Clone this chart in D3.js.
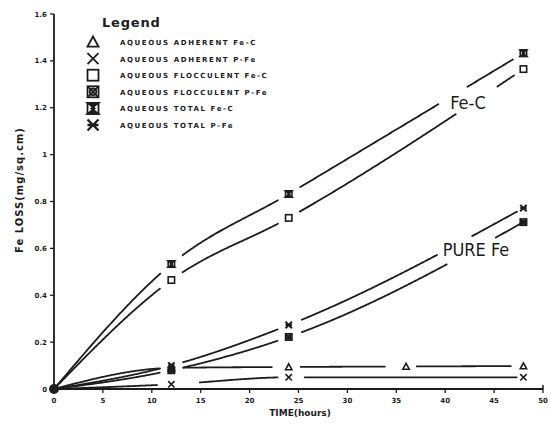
<!DOCTYPE html>
<html>
<head>
<meta charset="utf-8">
<script src="https://cdn.jsdelivr.net/npm/d3@7"></script>
<style>
  body { margin: 0; background: #fff; }
  text { fill: #1c1c1c; }
</style>
</head>
<body>
<svg id="chart" width="551" height="427"></svg>
<script>
// values (hours vs mg/sq.cm)
const hours = [0, 12, 24, 48];
const hoursAdhFeC = [0, 12, 24, 36, 48];
const totalFeC = [0, 0.533, 0.832, 1.433];
const flocFeC = [0, 0.465, 0.73, 1.365];
const totalPFe = [0, 0.10, 0.273, 0.772];
const flocPFe = [0, 0.08, 0.222, 0.712];
const adhFeC = [0, 0.09, 0.094, 0.096, 0.098];
const adhPFe = [0, 0.02, 0.05, 0.05];

const xTicks = [0, 5, 10, 15, 20, 25, 30, 35, 40, 45, 50];
const yTicks = [0, 0.2, 0.4, 0.6, 0.8, 1, 1.2, 1.4, 1.6];
const legendNames = [
  "AQUEOUS ADHERENT Fe-C",
  "AQUEOUS ADHERENT P-Fe",
  "AQUEOUS FLOCCULENT Fe-C",
  "AQUEOUS FLOCCULENT P-Fe",
  "AQUEOUS TOTAL Fe-C",
  "AQUEOUS TOTAL P-Fe"
];
const legendSymbols = ["triangle", "cross", "square", "boxcircle", "hourglass", "star"];

// breaks in the hand drawn lines (hours)
const gapsAdhFeC = [[10.8, 13.2], [22.3, 25.2], [33.9, 37], [46.8, 50]];
const gapsAdhPFe = [[10.6, 14.9], [22.9, 25.6], [47.4, 50]];
const gapsFlocFeC = [[10.9, 13.1], [22.9, 25.1], [41.1, 45.3], [47.1, 50]];
const gapsFlocPFe = [[10.9, 13.2], [22.9, 25.3], [40.2, 45.1], [47.9, 50]];
const gapsTotalFeC = [[10.9, 13.1], [22.9, 25.1], [39.3, 42.2], [47, 50]];
const gapsTotalPFe = [[10.9, 13.2], [22.9, 25.3], [39.2, 42.7], [47.4, 50]];

const svg = d3.select("#chart");
const ink = "#1c1c1c";

const x = d3.scaleLinear().domain([0, 50]).range([54, 543]);
const y = d3.scaleLinear().domain([0, 1.6]).range([389, 14]);

// axes
svg.append("line").attr("x1", x(0)).attr("x2", x(50)).attr("y1", y(0)).attr("y2", y(0))
    .attr("stroke", ink).attr("stroke-width", 1.8);
svg.append("line").attr("x1", x(50)).attr("x2", x(50)).attr("y1", y(0)).attr("y2", y(0) - 4)
    .attr("stroke", ink).attr("stroke-width", 1.5);
svg.append("line").attr("x1", x(0)).attr("x2", x(0)).attr("y1", y(0)).attr("y2", y(1.6))
    .attr("stroke", ink).attr("stroke-width", 1.8);

svg.selectAll(".xt").data(xTicks).enter().append("line")
    .attr("x1", d => x(d)).attr("x2", d => x(d))
    .attr("y1", y(0)).attr("y2", y(0) + 4)
    .attr("stroke", ink).attr("stroke-width", 1.3);
svg.selectAll(".xl").data(xTicks).enter().append("text")
    .attr("x", d => x(d)).attr("y", y(0) + 14)
    .attr("text-anchor", "middle")
    .style("font", "bold 7px 'DejaVu Sans'")
    .text(d => d);

svg.selectAll(".yt").data(yTicks).enter().append("line")
    .attr("x1", x(0) - 4).attr("x2", x(0))
    .attr("y1", d => y(d)).attr("y2", d => y(d))
    .attr("stroke", ink).attr("stroke-width", 1.3);
svg.selectAll(".yl").data(yTicks).enter().append("text")
    .attr("x", x(0) - 7).attr("y", d => y(d) + 2.5)
    .attr("text-anchor", "end")
    .style("font", "bold 7px 'DejaVu Sans'")
    .text(d => d);

svg.append("text").attr("x", 300).attr("y", 416)
    .attr("text-anchor", "middle")
    .style("font", "bold 9px 'DejaVu Sans'")
    .text("TIME(hours)");

svg.append("text")
    .attr("transform", "translate(23,190) rotate(-90)")
    .attr("text-anchor", "middle")
    .style("font", "bold 10px 'DejaVu Sans'")
    .style("letter-spacing", "1px")
    .text("Fe LOSS(mg/sq.cm)");

const curve = d3.line().x(d => x(d[0])).y(d => y(d[1])).curve(d3.curveMonotoneX);
const straight = d3.line();

const series = [
    { xs: hoursAdhFeC, ys: adhFeC, gaps: gapsAdhFeC, sym: "triangle" },
    { xs: hours, ys: adhPFe, gaps: gapsAdhPFe, sym: "cross" },
    { xs: hours, ys: flocFeC, gaps: gapsFlocFeC, sym: "square" },
    { xs: hours, ys: flocPFe, gaps: gapsFlocPFe, sym: "boxcircle" },
    { xs: hours, ys: totalFeC, gaps: gapsTotalFeC, sym: "hourglass" },
    { xs: hours, ys: totalPFe, gaps: gapsTotalPFe, sym: "star" }
];

// draw each curve, broken where the original pen lifted
series.forEach(s => {
    const pts = s.xs.map((h, i) => [h, s.ys[i]]);
    const guide = svg.append("path").datum(pts).attr("d", curve).attr("fill", "none");
    const node = guide.node();
    const len = node.getTotalLength();
    const inGap = px => s.gaps.some(g => px >= x(g[0]) && px <= x(g[1]));
    const pieces = [];
    let cur = [];
    for (let l = 0; l <= len; l += 1) {
        const p = node.getPointAtLength(l);
        if (inGap(p.x)) {
            if (cur.length > 1) pieces.push(cur);
            cur = [];
        } else {
            cur.push([p.x, p.y]);
        }
    }
    if (cur.length > 1) pieces.push(cur);
    guide.remove();
    svg.append("g").selectAll("path").data(pieces).enter().append("path")
        .attr("d", straight)
        .attr("fill", "none")
        .attr("stroke", ink)
        .attr("stroke-width", 1.8)
        .attr("stroke-linecap", "round");
});

// marker shapes
function drawSymbol(g, type, cx, cy, r, sw) {
    const p = g.append("g").attr("transform", `translate(${cx},${cy})`)
        .attr("stroke", ink).attr("stroke-width", sw).attr("fill", "none");
    if (type === "triangle") {
        p.append("path").attr("d", `M0,${-r}L${r},${r * 0.85}L${-r},${r * 0.85}Z`);
    } else if (type === "cross") {
        p.append("path").attr("d", `M${-r},${-r}L${r},${r}M${r},${-r}L${-r},${r}`);
    } else if (type === "square") {
        p.append("rect").attr("x", -r).attr("y", -r).attr("width", 2 * r).attr("height", 2 * r);
    } else if (type === "boxcircle") {
        p.append("rect").attr("x", -r).attr("y", -r).attr("width", 2 * r).attr("height", 2 * r);
        p.append("circle").attr("r", r * 0.6);
        p.append("path").attr("d", `M${-r},${-r}L${r},${r}M${r},${-r}L${-r},${r}`);
    } else if (type === "hourglass") {
        p.append("rect").attr("x", -r).attr("y", -r).attr("width", 2 * r).attr("height", 2 * r);
        p.append("path").attr("d", `M${-r},${-r}L${r},${-r}L${-r * 0.3},0L${r},${r}L${-r},${r}L${r * 0.3},0Z`)
            .attr("fill", ink);
    } else if (type === "star") {
        p.append("path").attr("d", `M${-r},${-r}L${r},${r}M${r},${-r}L${-r},${r}M${-r},0L${r},0`)
            .attr("stroke-width", sw * 1.3);
    }
}

const markers = svg.append("g");
series.forEach(s => {
    s.xs.forEach((h, i) => {
        if (h === 0) return;
        drawSymbol(markers, s.sym, x(h), y(s.ys[i]), 3.2, 1.6);
    });
});

// blob at the origin
svg.append("circle").attr("cx", x(0)).attr("cy", y(0)).attr("r", 5).attr("fill", ink);

// curve labels
svg.append("text").attr("x", 468).attr("y", 109)
    .attr("text-anchor", "middle")
    .style("font", "18px 'DejaVu Sans Condensed', 'DejaVu Sans'")
    .text("Fe-C");
svg.append("text").attr("x", 476).attr("y", 256)
    .attr("text-anchor", "middle")
    .style("font", "18px 'DejaVu Sans Condensed', 'DejaVu Sans'")
    .text("PURE Fe");

// legend
const legend = svg.append("g");
legend.append("text").attr("x", 102).attr("y", 27)
    .style("font", "bold 13px 'DejaVu Sans'")
    .style("letter-spacing", "0.8px")
    .text("Legend");
legendNames.forEach((name, i) => {
    const cy = 42 + i * 16.6;
    drawSymbol(legend, legendSymbols[i], 93, cy, 5.5, 1.8);
    legend.append("text").attr("x", 120).attr("y", cy + 3)
        .style("font", "bold 7px 'DejaVu Sans'")
        .style("letter-spacing", "1.6px")
        .text(name);
});
</script>
</body>
</html>
